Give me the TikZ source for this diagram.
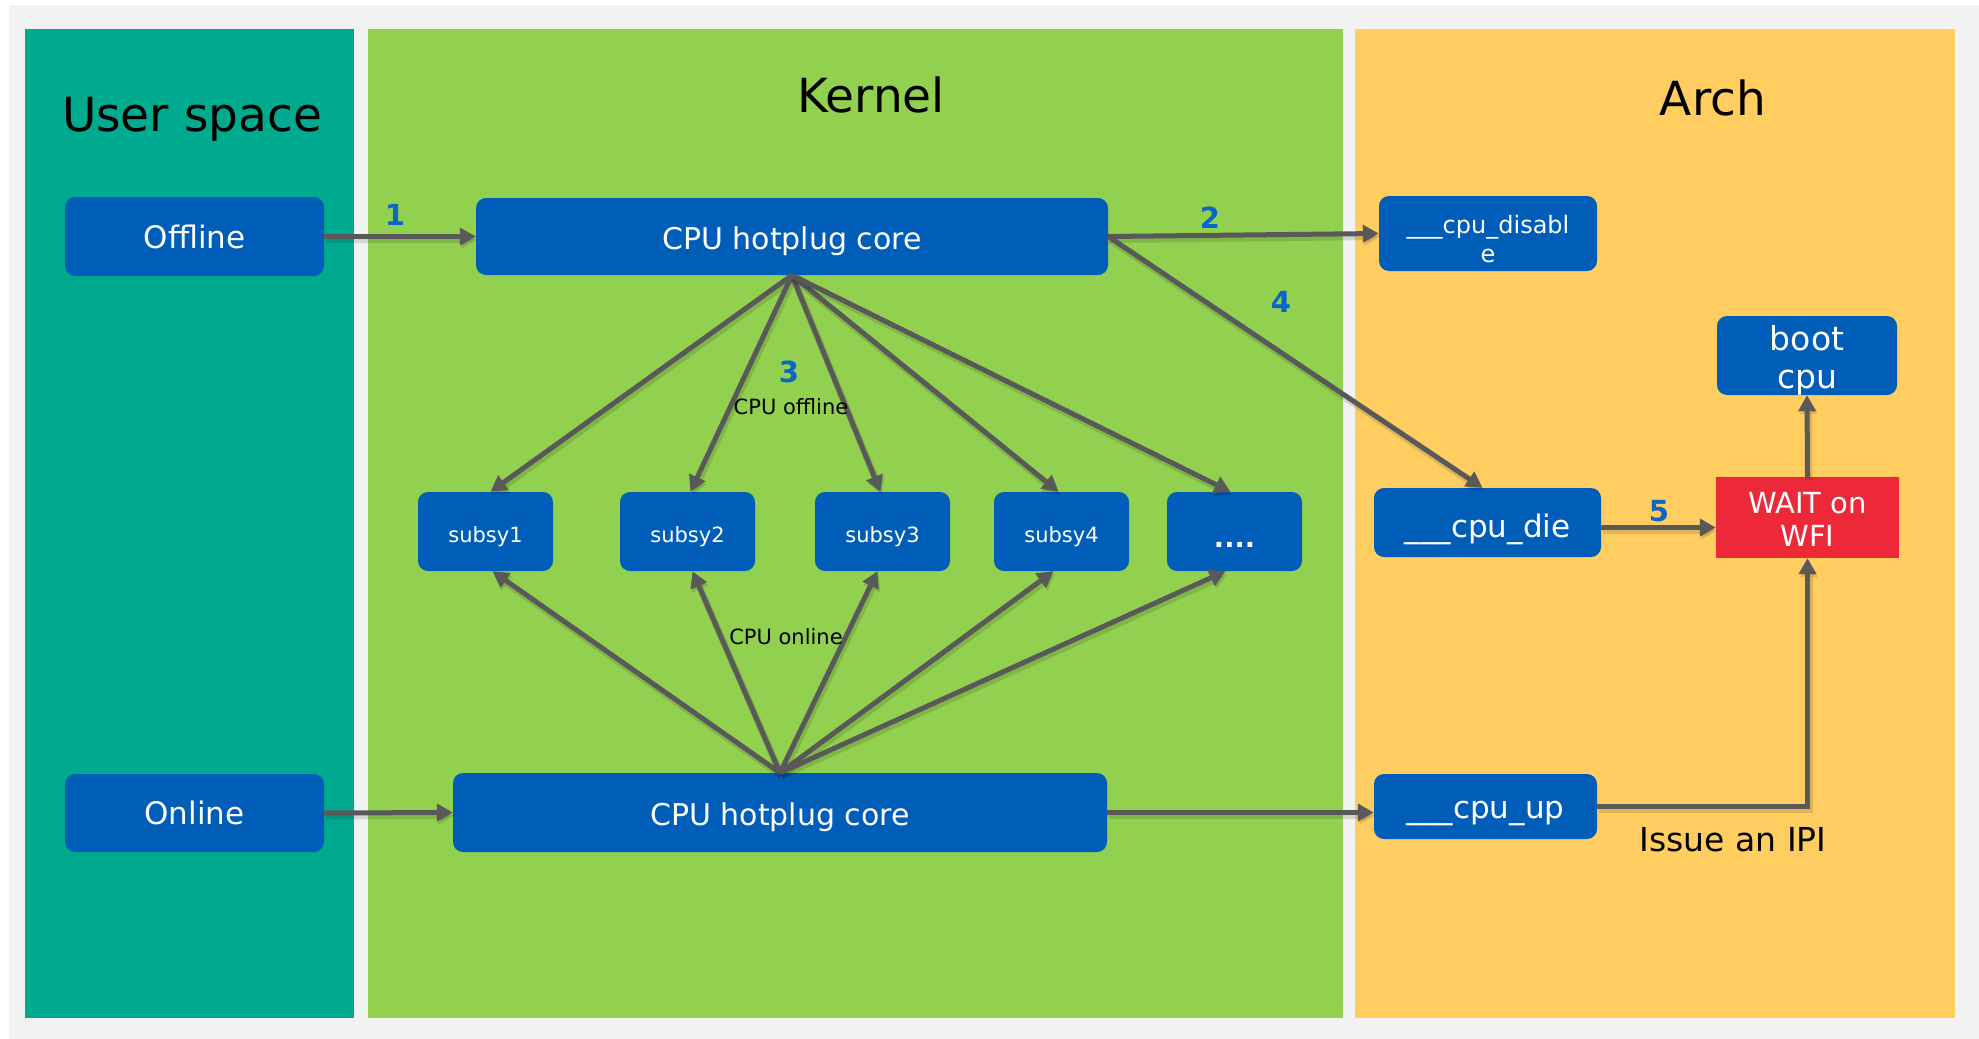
\documentclass[tikz,border=0pt]{standalone}
\usepackage{fontspec}
\setmainfont{DejaVu Sans}
\usetikzlibrary{arrows.meta,calc}

\definecolor{pagegray}{RGB}{242,242,242}
\definecolor{userteal}{RGB}{0,170,142}
\definecolor{kernelgreen}{RGB}{146,208,80}
\definecolor{archyellow}{RGB}{255,205,96}
\definecolor{boxblue}{RGB}{0,94,184}
\definecolor{waitred}{RGB}{237,40,56}
\definecolor{linegray}{RGB}{89,89,89}
\definecolor{stepblue}{RGB}{10,102,200}

\tikzset{
  fs/.style={font=\fontsize{#1}{#1}\selectfont},
  bluebox/.style={rounded corners=10pt, fill=boxblue, text=white, inner sep=0pt,
    align=center, text depth=0pt},
  redbox/.style={fill=waitred, text=white, inner sep=0pt, align=center, text depth=0pt},
  title/.style={anchor=base, text=black, fs=47},
  steplabel/.style={text=stepblue, font=\fontsize{29}{29}\selectfont\bfseries},
  note/.style={text=black, fs=21},
  flow/.style={draw=linegray, line width=5pt,
    -{Triangle[length=16pt,width=17pt]},
    preaction={draw=black, opacity=0.12, line width=7pt,
      transform canvas={shift={(1.5pt,-3pt)}}}}
}

\begin{document}
\begin{tikzpicture}[x=1pt, y=-1pt]
  % page and column backgrounds
  \fill[white] (0,0) rectangle (1979,1039);
  \fill[pagegray] (9,5) rectangle (1979,1039);
  \useasboundingbox (0,0) rectangle (1979,1039);
  \fill[userteal] (25,29) rectangle (354,1018);
  \fill[kernelgreen] (368,29) rectangle (1343,1018);
  \fill[archyellow] (1355,29) rectangle (1955,1018);

  % column headings
  \node[title] (tuser) at (192,131) {User space};
  \node[title] (tkern) at (871,112) {Kernel};
  \node[title] (tarch) at (1713,115) {Arch};

  % user space
  \node[bluebox, fs=31, text height=23pt, minimum width=259pt, minimum height=79pt] (off) at (194.5,236.5) {Offline};
  \node[bluebox, fs=31, text height=23pt, minimum width=259pt, minimum height=78pt] (on) at (194.5,813) {Online};

  % kernel
  \node[bluebox, fs=30, text height=25pt, minimum width=632pt, minimum height=77pt] (core1) at (792,236.5) {CPU hotplug core};
  \node[bluebox, fs=30, text height=25pt, minimum width=654pt, minimum height=79pt] (core2) at (780,812.5) {CPU hotplug core};
  \foreach \n/\x/\t in {s1/485.5/subsy1, s2/687.5/subsy2, s3/882.5/subsy3, s4/1061.5/subsy4}
    \node[bluebox, fs=21, text height=21pt, minimum width=135pt, minimum height=79pt] (\n) at (\x,531.5) {\t};
  \node[bluebox, font=\fontsize{27}{27}\selectfont\bfseries, text height=31pt, minimum width=135pt, minimum height=79pt] (s5) at (1234.5,531.5) {....};

  % arch
  \node[bluebox, font=\fontsize{24}{29}\selectfont, text height=57pt, minimum width=218pt, minimum height=75pt] (dis) at (1488,233.5) {\_\_\_cpu\_disabl\\e};
  \node[bluebox, font=\fontsize{33}{38}\selectfont, text height=65pt, minimum width=180pt, minimum height=79pt] (boot) at (1807,355.5) {boot\\cpu};
  \node[redbox, font=\fontsize{29}{33}\selectfont, text height=57pt, minimum width=183pt, minimum height=81pt] (wait) at (1807.5,517.5) {WAIT on\\WFI};
  \node[bluebox, fs=31, text height=29pt, minimum width=227pt, minimum height=69pt] (die) at (1487.5,522.5) {\_\_\_cpu\_die};
  \node[bluebox, fs=31, text height=23pt, minimum width=223pt, minimum height=65pt] (up) at (1485.5,806.5) {\_\_\_cpu\_up};

  % offline path
  \draw[flow] (off.east) -- (core1.west);
  \draw[flow] (core1.east) -- (dis.west);
  \draw[flow] (core1.east) -- ([xshift=-5pt]die.north);
  \draw[flow] (core1.south) -- ([xshift=5pt]s1.north);
  \draw[flow] (core1.south) -- ([xshift=3pt]s2.north);
  \draw[flow] (core1.south) -- ([xshift=-2pt]s3.north);
  \draw[flow] (core1.south) -- ([xshift=-3pt]s4.north);
  \draw[flow] (core1.south) -- ([xshift=-4pt]s5.north);
  \draw[flow] ([yshift=-5pt]die.east) -- ([yshift=-5pt]die.east -| wait.west);
  \draw[flow] (wait.north) -- (boot.south);

  % online path
  \draw[flow] (on.east) -- (core2.west);
  \draw[flow] (core2.east) -- (core2.east -| up.west);
  \draw[flow] (core2.north) -- ([xshift=7pt]s1.south);
  \draw[flow] (core2.north) -- ([xshift=5pt]s2.south);
  \draw[flow] (core2.north) -- ([xshift=-5pt]s3.south);
  \draw[flow] (core2.north) -- ([xshift=-8pt]s4.south);
  \draw[flow] (core2.north) -- ([xshift=-9pt]s5.south);
  \draw[flow] (up.east) -| (wait.south);

  % step numbers and notes
  \node[steplabel] (n1) at (395,215) {1};
  \node[steplabel] (n2) at (1210,218) {2};
  \node[steplabel] (n3) at (789,372) {3};
  \node[steplabel] (n4) at (1281,302) {4};
  \node[steplabel] (n5) at (1659,511) {5};
  \node[note] (offnote) at (791,407) {CPU offline};
  \node[note] (onnote) at (786,637) {CPU online};
  \node[text=black, fs=33] (ipi) at (1733,840) {Issue an IPI};
\end{tikzpicture}
\end{document}
